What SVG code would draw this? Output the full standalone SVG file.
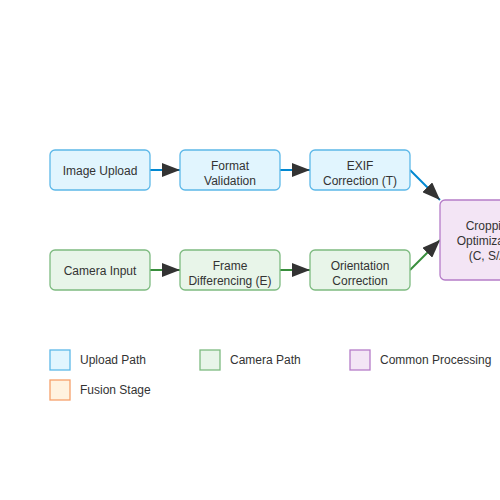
<svg xmlns="http://www.w3.org/2000/svg" width="500" height="500" viewBox="0 0 500 500">
<defs>
<style>
.t{font-family:"Liberation Sans",Arial,sans-serif;font-size:12px;fill:#333;text-anchor:middle}
.lt{font-family:"Liberation Sans",Arial,sans-serif;font-size:12px;fill:#333}
.up{fill:#e1f5fe;stroke:#5cb8e8;stroke-width:1.3}
.cam{fill:#e8f5e9;stroke:#7dbb80;stroke-width:1.3}
.com{fill:#f3e5f5;stroke:#b57cc8;stroke-width:1.3}
.fus{fill:#fff3e0;stroke:#f6a06a;stroke-width:1.3}
.eb{stroke:#0288d1;stroke-width:2;fill:none}
.eg{stroke:#388e3c;stroke-width:2;fill:none}
</style>
<marker id="ah" markerUnits="userSpaceOnUse" markerWidth="18" markerHeight="14" refX="18" refY="7" orient="auto">
<path d="M0,0 L18,7 L0,14 Z" fill="#333"/>
</marker>
</defs>
<rect width="500" height="500" fill="#fff"/>
<g id="connectors">
<line class="eb" x1="150" y1="170" x2="180" y2="170" marker-end="url(#ah)"/>
<line class="eb" x1="280" y1="170" x2="310" y2="170" marker-end="url(#ah)"/>
<line class="eb" x1="410" y1="170" x2="440" y2="200" marker-end="url(#ah)"/>
<line class="eg" x1="150" y1="270" x2="180" y2="270" marker-end="url(#ah)"/>
<line class="eg" x1="280" y1="270" x2="310" y2="270" marker-end="url(#ah)"/>
<line class="eg" x1="410" y1="270" x2="440" y2="240" marker-end="url(#ah)"/>
</g>
<g id="image-upload"><rect class="up" x="50" y="150" width="100" height="40" rx="5"/><text class="t" x="100" y="175">Image Upload</text></g>
<g id="format-validation"><rect class="up" x="180" y="150" width="100" height="40" rx="5"/><text class="t" x="230" y="170">Format</text><text class="t" x="230" y="185">Validation</text></g>
<g id="exif-correction"><rect class="up" x="310" y="150" width="100" height="40" rx="5"/><text class="t" x="360" y="170">EXIF</text><text class="t" x="360" y="185">Correction (T)</text></g>
<g id="camera-input"><rect class="cam" x="50" y="250" width="100" height="40" rx="5"/><text class="t" x="100" y="275">Camera Input</text></g>
<g id="frame-differencing"><rect class="cam" x="180" y="250" width="100" height="40" rx="5"/><text class="t" x="230" y="270">Frame</text><text class="t" x="230" y="285">Differencing (E)</text></g>
<g id="orientation-correction"><rect class="cam" x="310" y="250" width="100" height="40" rx="5"/><text class="t" x="360" y="270">Orientation</text><text class="t" x="360" y="285">Correction</text></g>
<g id="cropping-optimization"><rect class="com" x="440" y="200" width="100" height="80" rx="5"/><text class="t" x="490" y="230">Cropping</text><text class="t" x="490" y="245">Optimization</text><text class="t" x="490" y="260">(C, S/A)</text></g>
<g id="legend">
<rect class="up" x="50" y="350" width="20" height="20"/><text class="lt" x="80" y="364">Upload Path</text>
<rect class="cam" x="200" y="350" width="20" height="20"/><text class="lt" x="230" y="364">Camera Path</text>
<rect class="com" x="350" y="350" width="20" height="20"/><text class="lt" x="380" y="364">Common Processing</text>
<rect class="fus" x="50" y="380" width="20" height="20"/><text class="lt" x="80" y="394">Fusion Stage</text>
</g>
</svg>
